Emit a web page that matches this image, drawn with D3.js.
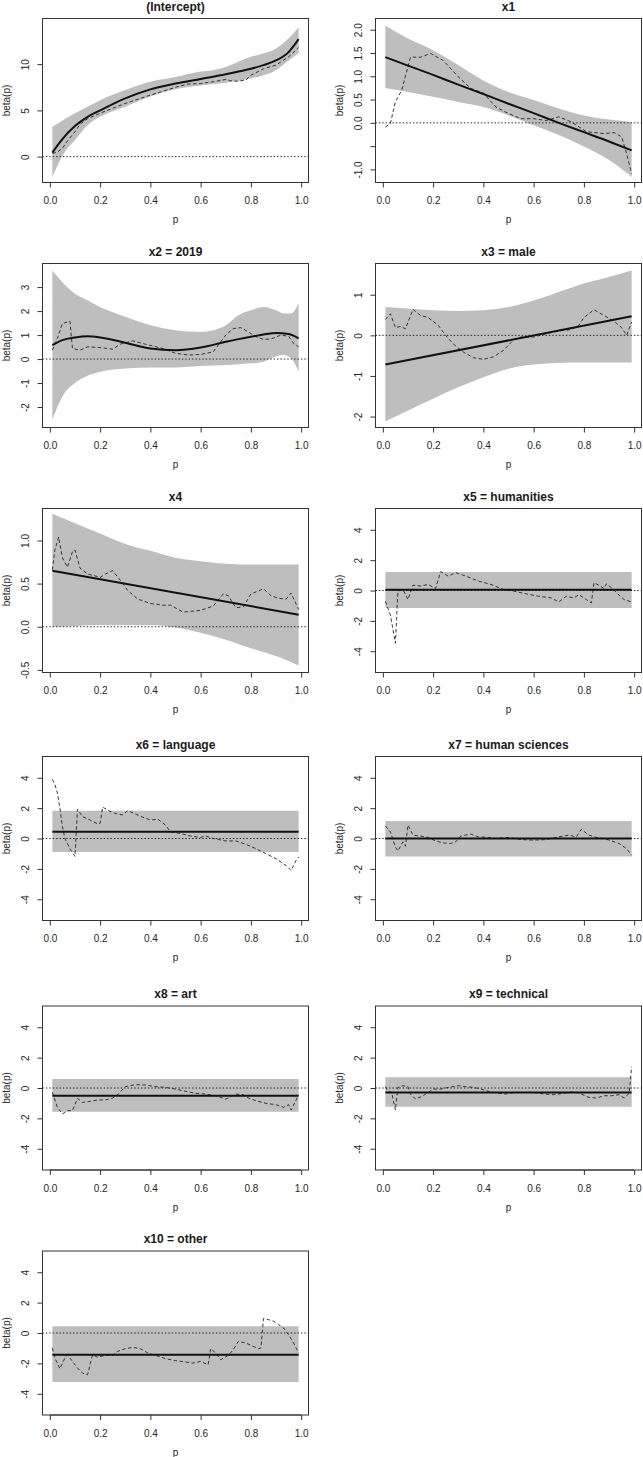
<!DOCTYPE html>
<html><head><meta charset="utf-8">
<script src="https://cdn.jsdelivr.net/npm/d3@7"></script>
<style>
body{margin:0;background:#fff}
text{font-family:"Liberation Sans",Arial,Helvetica,sans-serif;fill:#1a1a1a}
</style>
</head><body><svg id="c" width="643" height="1457"></svg>
<script>
// ---------------- DATA ----------------
const titles = ["(Intercept)","x1","x2 = 2019","x3 = male","x4","x5 = humanities","x6 = language","x7 = human sciences","x8 = art","x9 = technical","x10 = other"];
const xTicks = [0,0.2,0.4,0.6,0.8,1.0];
const xTickLabels = ["0.0","0.2","0.4","0.6","0.8","1.0"];

const yLims = [[-2.14,14.28],[-1.15,2.11],[-2.6,3.73],[-2.12,1.62],[-0.46,1.30],[-5,5],[-5,5],[-5,5],[-5,5],[-5,5],[-5,5]];
const yTicks = [[0,5,10],[-1,-0.5,0,0.5,1,1.5,2],[-2,-1,0,1,2,3],[-2,-1,0,1],[-0.5,0,0.5,1],[-4,-2,0,2,4],[-4,-2,0,2,4],[-4,-2,0,2,4],[-4,-2,0,2,4],[-4,-2,0,2,4],[-4,-2,0,2,4]];
const yTickLabels = [["0","5","10"],["-1.0","","0.0","0.5","1.0","1.5","2.0"],["-2","-1","0","1","2","3"],["-2","-1","0","1"],["-0.5","0.0","0.5","1.0"],["-4","-2","0","2","4"],["-4","-2","0","2","4"],["-4","-2","0","2","4"],["-4","-2","0","2","4"],["-4","-2","0","2","4"],["-4","-2","0","2","4"]];

// (Intercept)
const interceptFit = [[0.01,0.43],[0.03,1.2],[0.05,1.9],[0.1,3.3],[0.15,4.3],[0.2,5.0],[0.3,6.3],[0.4,7.27],[0.5,7.9],[0.6,8.4],[0.7,8.9],[0.75,9.2],[0.8,9.5],[0.85,9.9],[0.9,10.4],[0.95,11.3],[0.99,12.7]];
const interceptBand = [[0.01,-2.2,3.2],[0.05,0.1,3.9],[0.1,1.8,4.7],[0.15,3.4,5.4],[0.2,4.3,6.1],[0.3,5.4,7.2],[0.4,6.5,8.1],[0.5,7.3,8.6],[0.6,7.7,9.2],[0.65,7.85,9.35],[0.7,8.0,9.7],[0.8,8.45,10.8],[0.85,8.8,11.15],[0.9,9.35,11.7],[0.95,10.4,12.8],[0.99,11.2,14.0]];
const interceptDashed = [[0.01,0.35],[0.03,0.5],[0.05,0.9],[0.07,1.7],[0.1,2.7],[0.12,3.5],[0.15,4.1],[0.2,4.7],[0.3,5.75],[0.4,6.65],[0.5,7.5],[0.55,7.85],[0.6,7.9],[0.65,8.1],[0.7,8.35],[0.72,8.2],[0.75,8.15],[0.78,8.3],[0.8,8.8],[0.85,9.5],[0.9,9.9],[0.95,10.8],[0.99,11.8]];

// x1
const x1Fit = [[0.01,1.41],[0.1,1.23],[0.2,1.03],[0.3,0.82],[0.4,0.62],[0.5,0.41],[0.6,0.21],[0.7,0.0],[0.8,-0.2],[0.9,-0.4],[0.99,-0.59]];
const x1Band = [[0.01,0.75,2.09],[0.1,0.66,1.81],[0.2,0.56,1.56],[0.3,0.45,1.24],[0.4,0.34,0.91],[0.5,0.16,0.66],[0.6,-0.05,0.49],[0.7,-0.26,0.31],[0.8,-0.51,0.16],[0.9,-0.8,0.07],[0.99,-1.16,0.02]];
const x1Dashed = [[0.01,-0.09],[0.03,-0.01],[0.05,0.45],[0.075,0.7],[0.11,1.41],[0.15,1.41],[0.19,1.49],[0.24,1.34],[0.3,0.99],[0.35,0.74],[0.4,0.64],[0.45,0.34],[0.5,0.2],[0.55,0.09],[0.6,0.09],[0.65,0.05],[0.7,0.13],[0.75,0.02],[0.81,-0.19],[0.88,-0.23],[0.92,-0.21],[0.95,-0.3],[0.97,-0.66],[0.99,-1.09]];

// x2 = 2019
const x2Fit = [[0.01,0.58],[0.05,0.79],[0.1,0.9],[0.15,0.95],[0.2,0.9],[0.3,0.68],[0.4,0.44],[0.5,0.37],[0.6,0.48],[0.7,0.72],[0.75,0.83],[0.8,0.93],[0.85,1.02],[0.9,1.09],[0.95,1.04],[0.99,0.86]];
const x2Band = [[0.01,-2.53,3.69],[0.05,-1.56,3.2],[0.1,-1.0,2.72],[0.15,-0.7,2.45],[0.2,-0.53,2.17],[0.3,-0.39,1.76],[0.4,-0.35,1.41],[0.5,-0.35,1.2],[0.6,-0.29,1.13],[0.65,-0.27,1.2],[0.7,-0.25,1.41],[0.75,-0.22,1.83],[0.8,-0.18,2.03],[0.85,-0.11,2.17],[0.9,0.12,2.03],[0.93,0.17,1.9],[0.96,0.03,1.9],[0.99,-0.53,2.34]];
const x2Dashed = [[0.01,0.37],[0.03,0.86],[0.05,1.48],[0.08,1.58],[0.09,0.44],[0.12,0.37],[0.15,0.51],[0.2,0.48],[0.25,0.41],[0.28,0.62],[0.33,0.76],[0.38,0.62],[0.45,0.44],[0.5,0.24],[0.55,0.17],[0.6,0.19],[0.65,0.3],[0.7,1.0],[0.73,1.27],[0.76,1.31],[0.79,1.13],[0.82,0.93],[0.85,0.82],[0.88,0.84],[0.92,1.0],[0.95,0.95],[0.97,0.65],[0.99,0.51]];

// x3 = male
const x3Fit = [[0.01,-0.72],[0.99,0.47]];
const x3Band = [[0.01,-2.12,0.7],[0.1,-1.85,0.66],[0.2,-1.56,0.62],[0.3,-1.28,0.6],[0.4,-1.03,0.62],[0.5,-0.82,0.7],[0.6,-0.72,0.86],[0.7,-0.68,1.07],[0.8,-0.67,1.28],[0.9,-0.67,1.44],[0.99,-0.67,1.6]];
const x3Dashed = [[0.01,0.39],[0.03,0.53],[0.05,0.19],[0.07,0.22],[0.09,0.16],[0.12,0.64],[0.15,0.49],[0.18,0.44],[0.22,0.25],[0.25,0.0],[0.28,-0.21],[0.32,-0.41],[0.36,-0.55],[0.4,-0.59],[0.44,-0.53],[0.48,-0.37],[0.52,-0.11],[0.55,-0.04],[0.6,-0.04],[0.65,0.04],[0.7,0.11],[0.75,0.14],[0.78,0.25],[0.8,0.44],[0.84,0.63],[0.88,0.49],[0.92,0.35],[0.95,0.19],[0.97,0.0],[0.99,0.33]];

// x4
const x4Fit = [[0.01,0.65],[0.99,0.14]];
const x4Band = [[0.01,0.0,1.31],[0.1,0.01,1.2],[0.2,0.02,1.08],[0.3,0.02,0.96],[0.4,0.02,0.88],[0.5,-0.01,0.8],[0.6,-0.07,0.76],[0.7,-0.15,0.73],[0.8,-0.25,0.72],[0.9,-0.34,0.72],[0.99,-0.45,0.72]];
const x4Dashed = [[0.01,0.66],[0.02,0.89],[0.035,1.04],[0.05,0.8],[0.07,0.69],[0.09,0.87],[0.1,0.89],[0.12,0.68],[0.15,0.61],[0.18,0.59],[0.2,0.57],[0.22,0.61],[0.25,0.65],[0.28,0.54],[0.31,0.42],[0.35,0.32],[0.4,0.27],[0.45,0.25],[0.48,0.25],[0.53,0.17],[0.6,0.19],[0.65,0.24],[0.69,0.38],[0.71,0.36],[0.74,0.22],[0.77,0.23],[0.8,0.38],[0.85,0.44],[0.88,0.36],[0.91,0.33],[0.94,0.32],[0.96,0.39],[0.99,0.2]];

// x5 = humanities
const x5Fit = [[0.01,0.05],[0.99,0.05]];
const x5Band = [[0.01,-1.15,1.22],[0.99,-1.15,1.22]];
const x5Dashed = [[0.01,-0.71],[0.03,-1.6],[0.05,-3.47],[0.06,-0.04],[0.08,0.07],[0.1,-0.6],[0.12,0.35],[0.15,0.29],[0.18,0.4],[0.21,0.13],[0.23,1.24],[0.26,0.95],[0.29,1.17],[0.33,0.95],[0.38,0.62],[0.43,0.4],[0.48,0.07],[0.52,-0.04],[0.57,-0.22],[0.62,-0.38],[0.67,-0.49],[0.7,-0.75],[0.73,-0.38],[0.76,-0.49],[0.78,-0.27],[0.81,-0.6],[0.83,-0.82],[0.84,0.51],[0.86,0.35],[0.88,0.13],[0.89,0.44],[0.91,0.18],[0.93,-0.15],[0.96,-0.6],[0.99,-0.75]];

// x6 = language
const x6Fit = [[0.01,0.44],[0.99,0.44]];
const x6Band = [[0.01,-0.89,1.82],[0.99,-0.89,1.82]];
const x6Dashed = [[0.01,3.89],[0.02,3.56],[0.03,3.0],[0.04,2.0],[0.05,0.78],[0.06,0.0],[0.08,-0.67],[0.1,-1.18],[0.11,1.93],[0.13,1.44],[0.16,1.22],[0.19,0.96],[0.2,1.0],[0.21,2.07],[0.24,1.78],[0.27,1.6],[0.29,1.56],[0.31,1.84],[0.34,1.62],[0.37,1.4],[0.4,1.22],[0.43,1.27],[0.46,0.89],[0.48,0.44],[0.52,0.33],[0.56,0.16],[0.6,0.07],[0.62,0.16],[0.65,0.0],[0.7,-0.16],[0.74,-0.16],[0.78,-0.38],[0.82,-0.67],[0.86,-1.0],[0.9,-1.33],[0.94,-1.78],[0.96,-2.11],[0.98,-1.44],[0.99,-1.22]];

// x7 = human sciences
const x7Fit = [[0.01,0.0],[0.99,0.0]];
const x7Band = [[0.01,-1.18,1.16],[0.99,-1.18,1.16]];
const x7Dashed = [[0.01,0.82],[0.03,0.44],[0.05,-0.56],[0.06,-0.82],[0.08,-0.22],[0.09,-0.51],[0.1,0.89],[0.12,0.22],[0.15,0.16],[0.18,0.07],[0.21,-0.16],[0.24,-0.29],[0.27,-0.33],[0.29,-0.22],[0.31,0.16],[0.35,0.29],[0.38,0.11],[0.42,0.07],[0.45,0.0],[0.5,0.07],[0.55,-0.07],[0.6,-0.11],[0.65,-0.07],[0.7,0.11],[0.74,0.22],[0.77,0.11],[0.79,0.6],[0.82,0.22],[0.85,0.07],[0.88,0.0],[0.91,-0.16],[0.94,-0.33],[0.97,-0.67],[0.99,-1.11]];

// x8 = art
const x8Fit = [[0.01,-0.51],[0.99,-0.51]];
const x8Band = [[0.01,-1.56,0.59],[0.99,-1.56,0.59]];
const x8Dashed = [[0.01,-0.29],[0.03,-1.27],[0.05,-1.71],[0.07,-1.49],[0.09,-1.49],[0.11,-0.68],[0.13,-0.95],[0.16,-0.88],[0.19,-0.79],[0.22,-0.79],[0.25,-0.66],[0.27,-0.44],[0.3,0.09],[0.34,0.22],[0.38,0.2],[0.42,0.09],[0.46,0.04],[0.5,-0.07],[0.54,-0.22],[0.58,-0.35],[0.62,-0.4],[0.66,-0.51],[0.7,-0.73],[0.72,-0.57],[0.74,-0.4],[0.77,-0.44],[0.79,-0.66],[0.82,-0.84],[0.86,-1.01],[0.9,-1.1],[0.93,-1.27],[0.95,-1.1],[0.96,-1.45],[0.98,-0.79],[0.99,-0.44]];

// x9 = technical
const x9Fit = [[0.01,-0.29],[0.99,-0.29]];
const x9Band = [[0.01,-1.23,0.7],[0.99,-1.23,0.7]];
const x9Dashed = [[0.01,0.09],[0.02,-0.22],[0.035,-0.29],[0.05,-1.45],[0.06,0.04],[0.08,0.15],[0.1,0.09],[0.11,-0.4],[0.13,-0.73],[0.16,-0.51],[0.18,-0.29],[0.2,-0.07],[0.23,-0.07],[0.26,0.04],[0.3,0.15],[0.33,0.09],[0.36,0.04],[0.39,-0.07],[0.42,-0.22],[0.46,-0.35],[0.49,-0.4],[0.52,-0.29],[0.56,-0.29],[0.6,-0.29],[0.64,-0.4],[0.68,-0.44],[0.72,-0.35],[0.76,-0.24],[0.79,-0.4],[0.82,-0.62],[0.85,-0.66],[0.88,-0.51],[0.91,-0.51],[0.94,-0.44],[0.96,-0.66],[0.98,-0.35],[0.985,0.48],[0.99,1.41]];

// x10 = other
const x10Fit = [[0.01,-1.43],[0.99,-1.43]];
const x10Band = [[0.01,-3.23,0.44],[0.99,-3.23,0.44]];
const x10Dashed = [[0.01,-0.99],[0.02,-1.65],[0.04,-2.35],[0.06,-1.65],[0.07,-1.43],[0.09,-1.87],[0.11,-2.31],[0.13,-2.64],[0.15,-2.75],[0.17,-1.43],[0.19,-1.6],[0.22,-1.47],[0.25,-1.47],[0.27,-1.21],[0.3,-1.03],[0.33,-0.95],[0.36,-1.03],[0.39,-1.32],[0.42,-1.47],[0.46,-1.69],[0.5,-1.82],[0.54,-1.91],[0.57,-1.98],[0.6,-1.87],[0.63,-2.09],[0.64,-1.03],[0.66,-1.32],[0.68,-1.76],[0.71,-1.47],[0.73,-1.1],[0.75,-0.55],[0.78,-0.66],[0.8,-0.81],[0.83,-1.03],[0.84,-0.99],[0.85,0.95],[0.87,0.88],[0.89,0.77],[0.91,0.55],[0.93,0.33],[0.95,-0.11],[0.97,-0.66],[0.99,-1.32]];

const fits = [interceptFit,x1Fit,x2Fit,x3Fit,x4Fit,x5Fit,x6Fit,x7Fit,x8Fit,x9Fit,x10Fit];
const bands = [interceptBand,x1Band,x2Band,x3Band,x4Band,x5Band,x6Band,x7Band,x8Band,x9Band,x10Band];
const dashes = [interceptDashed,x1Dashed,x2Dashed,x3Dashed,x4Dashed,x5Dashed,x6Dashed,x7Dashed,x8Dashed,x9Dashed,x10Dashed];

// ---------------- LAYOUT ----------------
const colLeft = [42.5, 375.5];
const rowTop = [18.5, 263.5, 508.5, 756.5, 1006, 1251];
const boxW = 266, boxH = 164;
const pRange = [0.01, 0.99];

const svg = d3.select("#c");

titles.forEach((title, i) => {
  const L = colLeft[i % 2], T = rowTop[Math.floor(i / 2)];
  const pad = (pRange[1] - pRange[0]) * 0.04;
  const x = d3.scaleLinear().domain([pRange[0] - pad, pRange[1] + pad]).range([L, L + boxW]);
  const yl = yLims[i], ypad = (yl[1] - yl[0]) * 0.04;
  const y = d3.scaleLinear().domain([yl[0] - ypad, yl[1] + ypad]).range([T + boxH, T]);

  const g = svg.append("g");
  const clipId = "clip" + i;
  g.append("clipPath").attr("id", clipId).append("rect")
    .attr("x", L).attr("y", T).attr("width", boxW).attr("height", boxH);
  const pg = g.append("g").attr("clip-path", `url(#${clipId})`);

  const smooth = fits[i].length > 2 ? d3.curveMonotoneX : d3.curveLinear;
  pg.append("path").datum(bands[i])
    .attr("d", d3.area().x(d => x(d[0])).y0(d => y(d[1])).y1(d => y(d[2])).curve(bands[i].length > 2 ? d3.curveMonotoneX : d3.curveLinear))
    .attr("fill", "#bebebe");

  pg.append("line").attr("x1", L).attr("x2", L + boxW).attr("y1", y(0)).attr("y2", y(0))
    .attr("stroke", "#222").attr("stroke-width", 1).attr("stroke-dasharray", "1.4,2");

  pg.append("path").datum(dashes[i])
    .attr("d", d3.line().x(d => x(d[0])).y(d => y(d[1])))
    .attr("fill", "none").attr("stroke", "#222").attr("stroke-width", 0.9).attr("stroke-dasharray", "3.5,2.5");

  pg.append("path").datum(fits[i])
    .attr("d", d3.line().x(d => x(d[0])).y(d => y(d[1])).curve(smooth))
    .attr("fill", "none").attr("stroke", "#111").attr("stroke-width", 2);

  // box
  g.append("rect").attr("x", L).attr("y", T).attr("width", boxW).attr("height", boxH)
    .attr("fill", "none").attr("stroke", "#333").attr("stroke-width", 1);

  // x axis
  const xa = g.append("g").attr("transform", `translate(0,${T + boxH})`)
    .call(d3.axisBottom(x).tickValues(xTicks).tickSize(5).tickPadding(9.5)
      .tickFormat((d, k) => xTickLabels[k]));
  xa.select(".domain").attr("stroke", "#333").attr("d", `M${x(xTicks[0])},0H${x(xTicks[xTicks.length - 1])}`);
  xa.selectAll(".tick line").attr("stroke", "#333");
  xa.selectAll("text").attr("font-size", 10).attr("font-family", null).style("fill", "#262626");

  // y axis
  const ya = g.append("g").attr("transform", `translate(${L},0)`)
    .call(d3.axisLeft(y).tickValues(yTicks[i]).tickSize(5)
      .tickFormat((d, k) => yTickLabels[i][k]));
  ya.select(".domain").remove();
  ya.selectAll(".tick line").attr("stroke", "#333");
  ya.selectAll("text").attr("font-size", 10).attr("font-family", null)
    .attr("transform", "rotate(-90)").attr("x", 0).attr("y", -13.7).attr("dy", null)
    .attr("text-anchor", "middle").style("fill", "#262626");

  // title
  g.append("text").attr("x", L + boxW / 2).attr("y", T - 7.8).attr("text-anchor", "middle")
    .attr("font-size", 12).attr("font-weight", "bold").text(title);
  // x label
  g.append("text").attr("x", L + boxW / 2).attr("y", T + boxH + 40.5).attr("text-anchor", "middle")
    .attr("font-size", 10).style("fill", "#262626").text("p");
  // y label
  g.append("text").attr("transform", `translate(${L - 32.5},${T + boxH / 2}) rotate(-90)`)
    .attr("text-anchor", "middle").attr("font-size", 10).style("fill", "#262626").text("beta(p)");
});
</script>
</body></html>
